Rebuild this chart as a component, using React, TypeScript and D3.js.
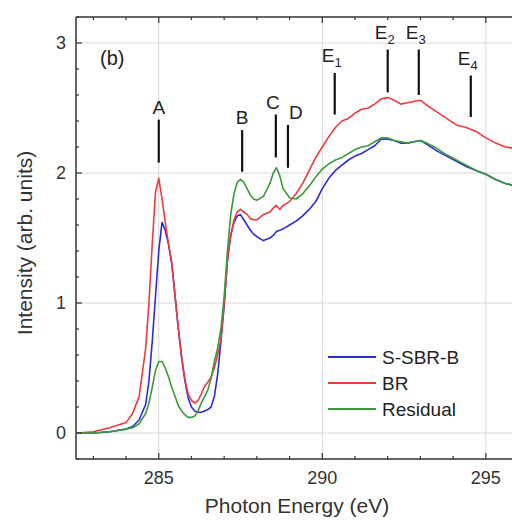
import React from 'react';
import * as d3 from 'd3';

// photon energy grid (eV), shared by the three spectra
const energy = [
  282.5, 283.0, 283.5, 284.0, 284.2, 284.4, 284.6, 284.7, 284.8, 284.9,
  285.0, 285.1, 285.2, 285.3, 285.4, 285.5, 285.6, 285.7, 285.8, 285.9,
  286.0, 286.1, 286.2, 286.3, 286.4, 286.5, 286.6, 286.7, 286.8, 286.9,
  287.0, 287.1, 287.2, 287.3, 287.4, 287.5, 287.6, 287.7, 287.8, 287.9,
  288.0, 288.2, 288.4, 288.5, 288.6, 288.7, 288.8, 289.0, 289.2, 289.4,
  289.6, 289.8, 290.0, 290.2, 290.4, 290.6, 290.8, 291.0, 291.2, 291.4,
  291.6, 291.8, 292.0, 292.2, 292.4, 292.6, 292.8, 293.0, 293.2, 293.5,
  293.8, 294.1, 294.4, 294.7, 295.0, 295.3, 295.6, 295.9,
];

const ssbrB = [
  0.0, 0.0, 0.01, 0.03, 0.05, 0.1, 0.22, 0.4, 0.7, 1.05,
  1.4, 1.62, 1.56, 1.45, 1.3, 1.05, 0.8, 0.58, 0.4, 0.27,
  0.2, 0.17, 0.16, 0.16, 0.17, 0.18, 0.2, 0.28, 0.45, 0.7,
  0.98, 1.33, 1.52, 1.62, 1.67, 1.68, 1.64, 1.6, 1.56, 1.53,
  1.51, 1.48, 1.5, 1.52, 1.55, 1.56, 1.57, 1.6, 1.63, 1.67,
  1.72, 1.78, 1.88, 1.96, 2.02, 2.06, 2.1, 2.13, 2.15, 2.18,
  2.21, 2.26, 2.26, 2.25, 2.23, 2.23, 2.24, 2.25, 2.22, 2.17,
  2.13, 2.09, 2.05, 2.02, 1.99, 1.95, 1.92, 1.9,
];

const br = [
  0.0, 0.01, 0.04, 0.08, 0.15, 0.28, 0.65, 1.0, 1.45, 1.85,
  1.96, 1.8, 1.62, 1.45, 1.3, 1.05, 0.8, 0.58, 0.41, 0.3,
  0.25, 0.23, 0.25, 0.3, 0.36, 0.39, 0.43, 0.5, 0.6, 0.72,
  1.0, 1.33, 1.52, 1.64, 1.7, 1.72, 1.7, 1.68, 1.65, 1.64,
  1.64, 1.68, 1.7, 1.73, 1.75, 1.72, 1.75, 1.78, 1.84, 1.92,
  2.02, 2.12, 2.2, 2.28, 2.35, 2.4, 2.42, 2.46, 2.49, 2.5,
  2.53, 2.57, 2.58, 2.56, 2.53, 2.54, 2.55, 2.56, 2.52, 2.47,
  2.42, 2.37, 2.35, 2.32, 2.27, 2.23, 2.2, 2.19,
];

const residual = [
  0.0, 0.0, 0.01, 0.03, 0.04, 0.07, 0.15, 0.23, 0.35, 0.48,
  0.55, 0.55, 0.5, 0.43, 0.35, 0.28, 0.21, 0.17, 0.14, 0.12,
  0.12, 0.13, 0.17, 0.23, 0.28, 0.33, 0.42, 0.55, 0.65, 0.8,
  1.05, 1.4, 1.68, 1.84, 1.93, 1.95, 1.93, 1.88, 1.83, 1.8,
  1.79, 1.82, 1.92, 2.0, 2.04, 1.98, 1.88, 1.81, 1.8, 1.84,
  1.9, 1.97, 2.03, 2.07, 2.1, 2.12, 2.15, 2.18, 2.2, 2.21,
  2.24, 2.27, 2.27, 2.25, 2.24, 2.23, 2.24, 2.25, 2.23, 2.19,
  2.14, 2.1, 2.06, 2.02, 1.99, 1.95, 1.92, 1.9,
];

const seriesNames = ['S-SBR-B', 'BR', 'Residual'];
const seriesColors = ['#2b2bd9', '#ee3a3a', '#3a9a3a'];

// peak markers: label, subscript, energy, line bottom / top (intensity)
const peakLabels = ['A', 'B', 'C', 'D', 'E', 'E', 'E', 'E'];
const peakSubs = ['', '', '', '', '1', '2', '3', '4'];
const peakEnergy = [285.0, 287.55, 288.58, 288.95, 290.38, 292.0, 292.95, 294.54];
const peakLow = [2.08, 2.01, 2.12, 2.04, 2.45, 2.62, 2.6, 2.43];
const peakHigh = [2.41, 2.33, 2.45, 2.37, 2.77, 2.95, 2.95, 2.75];

const xMajor = [285, 290, 295];
const yMajor = [0, 1, 2, 3];

const W = 512, H = 523;
const font = '"Liberation Sans", Arial, sans-serif';

export default function App() {
  const x = d3.scaleLinear().domain([282.47, 295.8]).range([76, 512]);
  const y = d3.scaleLinear().domain([-0.2, 3.2]).range([459, 17]);

  const series = [ssbrB, br, residual];
  const line = d3.line<number>()
    .x((_, i) => x(energy[i]))
    .y((d) => y(d));

  const xMinor = d3.range(283, 296, 1).filter((v) => !xMajor.includes(v));
  const yMinor = d3.range(-0.2, 3.21, 0.2)
    .map((v) => Math.round(v * 10) / 10)
    .filter((v) => !yMajor.includes(v));

  const [x0, x1] = x.range();
  const [yb, yt] = y.range();
  const axisColor = '#333';

  // label nudges so C and D don't collide (D sits right of its line)
  const labelShift = (i: number) => {
    if (peakLabels[i] === 'C') return -3;
    if (peakLabels[i] === 'D') return 8;
    if (peakSubs[i] !== '') return -3;
    return 0;
  };

  return (
    <svg width={W} height={H} style={{ position: 'absolute', left: 0, top: 0, background: '#fff' }}>
      <defs>
        <clipPath id="plot">
          <rect x={x0} y={yt} width={x1 - x0} height={yb - yt} />
        </clipPath>
      </defs>

      {/* grid */}
      {xMajor.map((v) => (
        <line key={'gx' + v} x1={x(v)} x2={x(v)} y1={yt} y2={yb} stroke="#d8d8d8" strokeWidth={1} />
      ))}
      {yMajor.map((v) => (
        <line key={'gy' + v} x1={x0} x2={x1} y1={y(v)} y2={y(v)} stroke="#d8d8d8" strokeWidth={1} />
      ))}

      {/* spectra */}
      <g clipPath="url(#plot)">
        {series.map((s, i) => (
          <path key={seriesNames[i]} d={line(s) || ''} fill="none" stroke={seriesColors[i]}
            strokeWidth={1.6} strokeLinejoin="round" />
        ))}
      </g>

      {/* axes */}
      <line x1={x0} x2={x1} y1={yb} y2={yb} stroke={axisColor} strokeWidth={1.5} />
      <line x1={x0} x2={x1} y1={yt} y2={yt} stroke={axisColor} strokeWidth={1.5} />
      <line x1={x0} x2={x0} y1={yt} y2={yb} stroke={axisColor} strokeWidth={1.5} />

      {xMajor.map((v) => (
        <g key={'xt' + v}>
          <line x1={x(v)} x2={x(v)} y1={yb} y2={yb - 6} stroke={axisColor} strokeWidth={1.2} />
          <line x1={x(v)} x2={x(v)} y1={yt} y2={yt + 6} stroke={axisColor} strokeWidth={1.2} />
          <text x={x(v)} y={yb + 25} textAnchor="middle" fontFamily={font} fontSize={18} fill="#333">{v}</text>
        </g>
      ))}
      {xMinor.map((v) => (
        <g key={'xm' + v}>
          <line x1={x(v)} x2={x(v)} y1={yb} y2={yb - 3} stroke={axisColor} strokeWidth={1.2} />
          <line x1={x(v)} x2={x(v)} y1={yt} y2={yt + 3} stroke={axisColor} strokeWidth={1.2} />
        </g>
      ))}
      {yMajor.map((v) => (
        <g key={'yt' + v}>
          <line x1={x0} x2={x0 + 6} y1={y(v)} y2={y(v)} stroke={axisColor} strokeWidth={1.2} />
          <text x={x0 - 10} y={y(v) + 6} textAnchor="end" fontFamily={font} fontSize={18} fill="#333">{v}</text>
        </g>
      ))}
      {yMinor.map((v) => (
        <line key={'ym' + v} x1={x0} x2={x0 + 3} y1={y(v)} y2={y(v)} stroke={axisColor} strokeWidth={1.2} />
      ))}

      {/* axis titles */}
      <text x={297} y={513} textAnchor="middle" fontFamily={font} fontSize={21} fill="#333">Photon Energy (eV)</text>
      <text transform={`translate(32,${(yt + yb) / 2 + 5}) rotate(-90)`} textAnchor="middle"
        fontFamily={font} fontSize={21} fill="#333">Intensity (arb. units)</text>

      {/* panel label */}
      <text x={100} y={65} fontFamily={font} fontSize={20} fill="#222">(b)</text>

      {/* peak markers */}
      {peakEnergy.map((e, i) => {
        const top = y(peakHigh[i]);
        const isE = peakSubs[i] !== '';
        return (
          <g key={'pk' + i}>
            <line x1={x(e)} x2={x(e)} y1={y(peakLow[i])} y2={top} stroke="#111" strokeWidth={2.2} />
            <text x={x(e) + labelShift(i)} y={top - (isE ? 11 : 6)} textAnchor="middle"
              fontFamily={font} fontSize={19} fill="#222">
              {peakLabels[i]}
              {isE && <tspan fontSize={13} dy={5}>{peakSubs[i]}</tspan>}
            </text>
          </g>
        );
      })}

      {/* legend */}
      {seriesNames.map((n, i) => (
        <g key={'lg' + n} transform={`translate(328,${357 + i * 26})`}>
          <line x1={0} x2={48} y1={0} y2={0} stroke={seriesColors[i]} strokeWidth={2} />
          <text x={54} y={7} fontFamily={font} fontSize={19} fill="#222">{n}</text>
        </g>
      ))}
    </svg>
  );
}
